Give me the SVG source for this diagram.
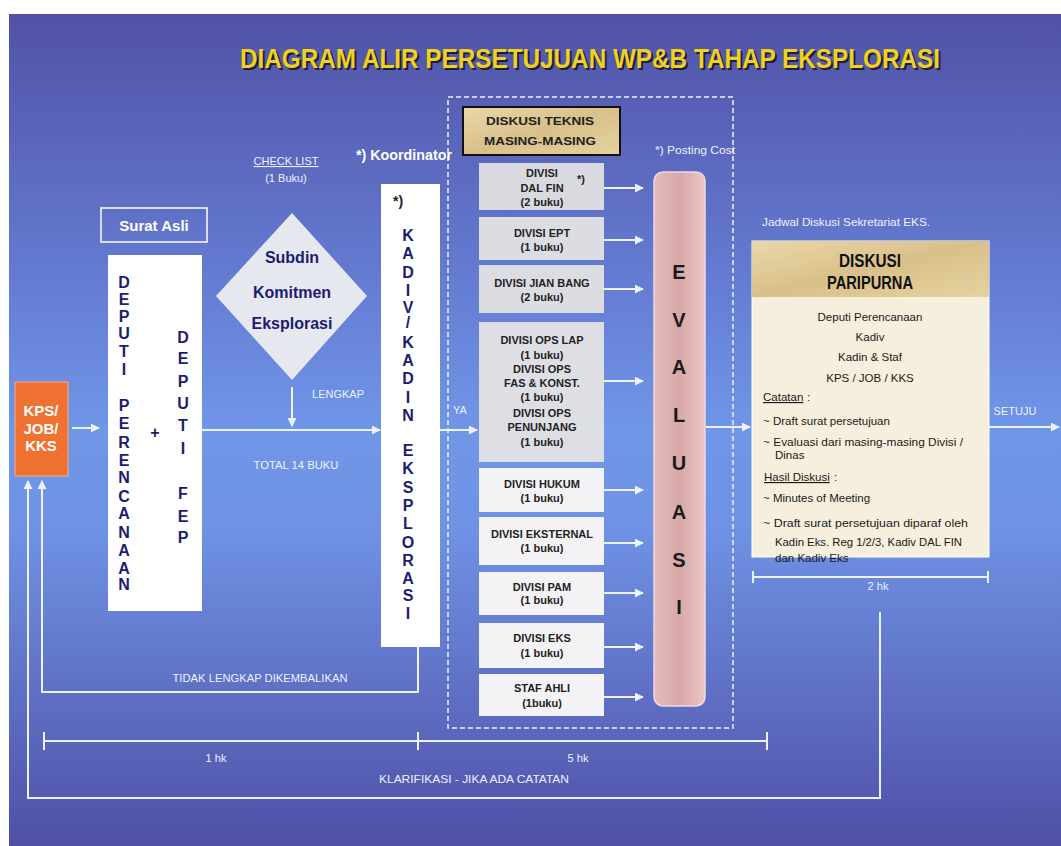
<svg xmlns="http://www.w3.org/2000/svg" width="1061" height="846" viewBox="0 0 1061 846">
<defs>
<linearGradient id="bg" x1="0" y1="0" x2="0" y2="1">
<stop offset="0" stop-color="#5152a6"/>
<stop offset="0.35" stop-color="#6680d6"/>
<stop offset="0.5" stop-color="#7096e8"/>
<stop offset="0.62" stop-color="#6f92e4"/>
<stop offset="1" stop-color="#4f50a6"/>
</linearGradient>
<linearGradient id="tan" x1="0" y1="0" x2="1" y2="1">
<stop offset="0" stop-color="#ead8a8"/>
<stop offset="0.5" stop-color="#d9c08a"/>
<stop offset="1" stop-color="#e6d2a0"/>
</linearGradient>
<linearGradient id="evalg" x1="0" y1="0" x2="1" y2="0">
<stop offset="0" stop-color="#e7bcbc"/>
<stop offset="0.5" stop-color="#d8a8a8"/>
<stop offset="1" stop-color="#ecc6c6"/>
</linearGradient>
<marker id="ah" viewBox="0 0 10 10" refX="9" refY="5" markerWidth="9" markerHeight="9" markerUnits="userSpaceOnUse" orient="auto">
<path d="M0,0 L10,5 L0,10 z" fill="#eef2ff"/>
</marker>
</defs>
<style>
.lbl{font-family:"Liberation Sans",Arial,sans-serif;fill:#eef1ff;font-size:11px}
.lblb{font-family:"Liberation Sans",Arial,sans-serif;fill:#ffffff;font-weight:bold}
.vl{font-family:"Liberation Sans",Arial,sans-serif;fill:#1c1c72;font-weight:bold;font-size:16px;text-anchor:middle}
.dv{font-family:"Liberation Sans",Arial,sans-serif;fill:#222;font-size:11px;text-anchor:middle;font-weight:bold}
.dbox{stroke:none}
.ln{stroke:#eef2ff;stroke-width:2;fill:none}
.ev{font-family:"Liberation Sans",Arial,sans-serif;fill:#1a1a1a;font-weight:bold;font-size:20px;text-anchor:middle}
.pt{font-family:"Liberation Sans",Arial,sans-serif;fill:#1a1a1a;font-size:11.5px}
</style>
<rect x="0" y="0" width="1061" height="846" fill="#ffffff"/>
<rect x="9" y="14" width="1052" height="832" fill="url(#bg)"/>

<!-- title -->
<g id="title">
<text x="592" y="70" text-anchor="middle" font-family="Liberation Sans, Arial, sans-serif" font-weight="bold" font-size="28" fill="#1e1e3a" textLength="700" lengthAdjust="spacingAndGlyphs">DIAGRAM ALIR PERSETUJUAN WP&amp;B TAHAP EKSPLORASI</text>
<text x="590" y="68" text-anchor="middle" font-family="Liberation Sans, Arial, sans-serif" font-weight="bold" font-size="28" fill="#f0d21c" textLength="700" lengthAdjust="spacingAndGlyphs">DIAGRAM ALIR PERSETUJUAN WP&amp;B TAHAP EKSPLORASI</text>
</g>

<!-- connectors -->
<g id="connectors">
<rect x="448" y="97" width="285" height="631" fill="none" stroke="#eef2ff" stroke-width="1.5" stroke-dasharray="5,3"/>
<line class="ln" x1="72" y1="428" x2="99" y2="428" marker-end="url(#ah)"/>
<line class="ln" x1="202" y1="430" x2="380" y2="430" marker-end="url(#ah)"/>
<line class="ln" x1="292" y1="387" x2="292" y2="426" marker-end="url(#ah)"/>
<line class="ln" x1="440" y1="430" x2="477" y2="430" marker-end="url(#ah)"/>
<line class="ln" x1="604" y1="188" x2="643" y2="188" marker-end="url(#ah)"/>
<line class="ln" x1="604" y1="240" x2="643" y2="240" marker-end="url(#ah)"/>
<line class="ln" x1="604" y1="289" x2="643" y2="289" marker-end="url(#ah)"/>
<line class="ln" x1="604" y1="381" x2="643" y2="381" marker-end="url(#ah)"/>
<line class="ln" x1="604" y1="490" x2="643" y2="490" marker-end="url(#ah)"/>
<line class="ln" x1="604" y1="543" x2="643" y2="543" marker-end="url(#ah)"/>
<line class="ln" x1="604" y1="593" x2="643" y2="593" marker-end="url(#ah)"/>
<line class="ln" x1="604" y1="647" x2="643" y2="647" marker-end="url(#ah)"/>
<line class="ln" x1="604" y1="697" x2="643" y2="697" marker-end="url(#ah)"/>
<line class="ln" x1="706" y1="427" x2="750" y2="427" marker-end="url(#ah)"/>
<line class="ln" x1="989" y1="427" x2="1059" y2="427" marker-end="url(#ah)"/>
<polyline class="ln" points="418,647 418,692 42,692 42,481" marker-end="url(#ah)"/>
<polyline class="ln" points="880,612 880,798 28,798 28,481" marker-end="url(#ah)"/>
<!-- timelines -->
<line class="ln" x1="44" y1="741" x2="767" y2="741"/>
<line class="ln" x1="44" y1="732" x2="44" y2="750"/>
<line class="ln" x1="418" y1="732" x2="418" y2="750"/>
<line class="ln" x1="767" y1="732" x2="767" y2="750"/>
<line class="ln" x1="753" y1="577" x2="988" y2="577"/>
<line class="ln" x1="753" y1="571" x2="753" y2="583"/>
<line class="ln" x1="988" y1="571" x2="988" y2="583"/>
</g>

<!-- free labels -->
<g id="labels">
<text class="lbl" x="286" y="165" text-anchor="middle" text-decoration="underline" textLength="65" lengthAdjust="spacingAndGlyphs">CHECK LIST</text>
<text class="lbl" x="286" y="182" text-anchor="middle">(1 Buku)</text>
<text class="lblb" x="404" y="160" text-anchor="middle" font-size="15" textLength="96" lengthAdjust="spacingAndGlyphs">*) Koordinator</text>
<text class="lbl" x="695" y="154" text-anchor="middle" font-size="12" textLength="80" lengthAdjust="spacingAndGlyphs">*) Posting Cost</text>
<text class="lbl" x="338" y="398" text-anchor="middle" font-size="10.5">LENGKAP</text>
<text class="lbl" x="296" y="469" text-anchor="middle" textLength="85" lengthAdjust="spacingAndGlyphs">TOTAL 14 BUKU</text>
<text class="lbl" x="460" y="414" text-anchor="middle" font-size="10">YA</text>
<text class="lbl" x="260" y="682" text-anchor="middle" textLength="175" lengthAdjust="spacingAndGlyphs">TIDAK LENGKAP DIKEMBALIKAN</text>
<text class="lbl" x="216" y="762" text-anchor="middle">1 hk</text>
<text class="lbl" x="578" y="762" text-anchor="middle">5 hk</text>
<text class="lbl" x="474" y="783" text-anchor="middle" textLength="190" lengthAdjust="spacingAndGlyphs">KLARIFIKASI - JIKA ADA CATATAN</text>
<text class="lbl" x="762" y="226" textLength="168" lengthAdjust="spacingAndGlyphs">Jadwal Diskusi Sekretariat EKS.</text>
<text class="lbl" x="878" y="590" text-anchor="middle">2 hk</text>
<text class="lbl" x="1015" y="415" text-anchor="middle">SETUJU</text>
</g>

<!-- KPS -->
<g id="kps">
<rect x="15" y="382" width="53" height="94" fill="#f07232" stroke="#f7b080" stroke-width="1"/>
<text class="lblb" x="41" y="416" text-anchor="middle" font-size="15">KPS/</text>
<text class="lblb" x="41" y="434" text-anchor="middle" font-size="15">JOB/</text>
<text class="lblb" x="41" y="451" text-anchor="middle" font-size="15">KKS</text>
</g>

<!-- Surat Asli -->
<g id="surat-asli">
<rect x="101" y="208" width="106" height="34" fill="none" stroke="#ffffff" stroke-width="1.5"/>
<text class="lblb" x="154" y="231" text-anchor="middle" font-size="15">Surat Asli</text>
</g>

<!-- Deputi -->
<g id="deputi">
<rect x="108" y="255" width="94" height="356" fill="#ffffff"/>
<text class="vl" x="124" y="288">D</text>
<text class="vl" x="124" y="305">E</text>
<text class="vl" x="124" y="322">P</text>
<text class="vl" x="124" y="339">U</text>
<text class="vl" x="124" y="357">T</text>
<text class="vl" x="124" y="375">I</text>
<text class="vl" x="124" y="411">P</text>
<text class="vl" x="124" y="429">E</text>
<text class="vl" x="124" y="448">R</text>
<text class="vl" x="124" y="466">E</text>
<text class="vl" x="124" y="483">N</text>
<text class="vl" x="124" y="502">C</text>
<text class="vl" x="124" y="519">A</text>
<text class="vl" x="124" y="538">N</text>
<text class="vl" x="124" y="556">A</text>
<text class="vl" x="124" y="574">A</text>
<text class="vl" x="124" y="590">N</text>
<text class="vl" x="155" y="438">+</text>
<text class="vl" x="183" y="343">D</text>
<text class="vl" x="183" y="364">E</text>
<text class="vl" x="183" y="387">P</text>
<text class="vl" x="183" y="409">U</text>
<text class="vl" x="183" y="431">T</text>
<text class="vl" x="183" y="454">I</text>
<text class="vl" x="183" y="499">F</text>
<text class="vl" x="183" y="522">E</text>
<text class="vl" x="183" y="543">P</text>
</g>

<!-- Subdin diamond -->
<g id="subdin">
<polygon points="292,213 367,296 292,380 216,296" fill="#e6e8f0"/>
<text class="vl" x="292" y="263" font-size="15">Subdin</text>
<text class="vl" x="292" y="298" font-size="15">Komitmen</text>
<text class="vl" x="292" y="329" font-size="15">Eksplorasi</text>
</g>

<!-- Kadiv -->
<g id="kadiv">
<rect x="381" y="184" width="59" height="463" fill="#ffffff"/>
<text x="398" y="206" text-anchor="middle" font-family="Liberation Sans, Arial, sans-serif" font-weight="bold" font-size="14" fill="#222">*)</text>
<text class="vl" x="408" y="241">K</text>
<text class="vl" x="408" y="259">A</text>
<text class="vl" x="408" y="278">D</text>
<text class="vl" x="408" y="296">I</text>
<text class="vl" x="408" y="313">V</text>
<text class="vl" x="408" y="328">/</text>
<text class="vl" x="408" y="348">K</text>
<text class="vl" x="408" y="366">A</text>
<text class="vl" x="408" y="384">D</text>
<text class="vl" x="408" y="403">I</text>
<text class="vl" x="408" y="421">N</text>
<text class="vl" x="408" y="456">E</text>
<text class="vl" x="408" y="474">K</text>
<text class="vl" x="408" y="493">S</text>
<text class="vl" x="408" y="511">P</text>
<text class="vl" x="408" y="529">L</text>
<text class="vl" x="408" y="548">O</text>
<text class="vl" x="408" y="566">R</text>
<text class="vl" x="408" y="584">A</text>
<text class="vl" x="408" y="601">S</text>
<text class="vl" x="408" y="619">I</text>
</g>

<!-- Diskusi teknis header -->
<g id="diskusi-teknis">
<rect x="463" y="107" width="157" height="48" fill="url(#tan)" stroke="#111" stroke-width="2"/>
<text class="dv" x="540" y="125" font-size="15" fill="#111" textLength="108" lengthAdjust="spacingAndGlyphs">DISKUSI TEKNIS</text>
<text class="dv" x="540" y="145" font-size="15" fill="#111" textLength="112" lengthAdjust="spacingAndGlyphs">MASING-MASING</text>
</g>

<!-- Divisions -->
<g id="div-dalfin">
<rect class="dbox" x="479" y="163" width="125" height="47" fill="#d9dadf"/>
<text class="dv" x="542" y="177">DIVISI</text>
<text class="dv" x="542" y="192">DAL FIN</text>
<text class="dv" x="542" y="206">(2 buku)</text>
<text class="dv" x="581" y="183">*)</text>
</g>
<g id="div-ept">
<rect class="dbox" x="479" y="217" width="125" height="43" fill="#dcdde2"/>
<text class="dv" x="542" y="237">DIVISI EPT</text>
<text class="dv" x="542" y="251">(1 buku)</text>
</g>
<g id="div-jianbang">
<rect class="dbox" x="479" y="265" width="125" height="48" fill="#dcdde2"/>
<text class="dv" x="542" y="287">DIVISI JIAN BANG</text>
<text class="dv" x="542" y="301">(2 buku)</text>
</g>
<g id="div-ops">
<rect class="dbox" x="479" y="322" width="125" height="140" fill="#dedfe4"/>
<text class="dv" x="542" y="344">DIVISI OPS LAP</text>
<text class="dv" x="542" y="359">(1 buku)</text>
<text class="dv" x="542" y="373">DIVISI OPS</text>
<text class="dv" x="542" y="387">FAS &amp; KONST.</text>
<text class="dv" x="542" y="401">(1 buku)</text>
<text class="dv" x="542" y="417">DIVISI OPS</text>
<text class="dv" x="542" y="431">PENUNJANG</text>
<text class="dv" x="542" y="446">(1 buku)</text>
</g>
<g id="div-hukum">
<rect class="dbox" x="479" y="468" width="125" height="44" fill="#f3f3f5"/>
<text class="dv" x="542" y="488">DIVISI HUKUM</text>
<text class="dv" x="542" y="502">(1 buku)</text>
</g>
<g id="div-eksternal">
<rect class="dbox" x="479" y="517" width="125" height="48" fill="#f3f3f5"/>
<text class="dv" x="542" y="538">DIVISI EKSTERNAL</text>
<text class="dv" x="542" y="552">(1 buku)</text>
</g>
<g id="div-pam">
<rect class="dbox" x="479" y="572" width="125" height="43" fill="#f3f3f5"/>
<text class="dv" x="542" y="591">DIVISI PAM</text>
<text class="dv" x="542" y="604">(1 buku)</text>
</g>
<g id="div-eks">
<rect class="dbox" x="479" y="623" width="125" height="45" fill="#f3f3f5"/>
<text class="dv" x="542" y="642">DIVISI EKS</text>
<text class="dv" x="542" y="657">(1 buku)</text>
</g>
<g id="div-stafahli">
<rect class="dbox" x="479" y="674" width="125" height="42" fill="#f3f3f5"/>
<text class="dv" x="542" y="692">STAF AHLI</text>
<text class="dv" x="542" y="707">(1buku)</text>
</g>

<!-- Evaluasi -->
<g id="evaluasi">
<rect x="654" y="172" width="51" height="534" rx="9" fill="url(#evalg)" stroke="#f0d8e0" stroke-width="1.5"/>
<text class="ev" x="679" y="279">E</text>
<text class="ev" x="679" y="327">V</text>
<text class="ev" x="679" y="374">A</text>
<text class="ev" x="679" y="422">L</text>
<text class="ev" x="679" y="470">U</text>
<text class="ev" x="679" y="519">A</text>
<text class="ev" x="679" y="567">S</text>
<text class="ev" x="679" y="614">I</text>
</g>

<!-- Diskusi paripurna -->
<g id="paripurna">
<rect x="752" y="241" width="237" height="316" fill="#f6efdd" stroke="#ffffff" stroke-width="1"/>
<rect x="752" y="241" width="237" height="56" fill="url(#tan)"/>
<text x="870" y="267" text-anchor="middle" font-family="Liberation Sans, Arial, sans-serif" font-weight="bold" font-size="18" fill="#111" textLength="62" lengthAdjust="spacingAndGlyphs">DISKUSI</text>
<text x="870" y="289" text-anchor="middle" font-family="Liberation Sans, Arial, sans-serif" font-weight="bold" font-size="18" fill="#111" textLength="86" lengthAdjust="spacingAndGlyphs">PARIPURNA</text>
<text class="pt" x="870" y="321" text-anchor="middle">Deputi Perencanaan</text>
<text class="pt" x="870" y="341" text-anchor="middle">Kadiv</text>
<text class="pt" x="870" y="361" text-anchor="middle">Kadin &amp; Staf</text>
<text class="pt" x="870" y="382" text-anchor="middle">KPS / JOB / KKS</text>
<text class="pt" x="763" y="401" text-decoration="underline">Catatan</text>
<text class="pt" x="807" y="401">:</text>
<text class="pt" x="763" y="425">~ Draft surat persetujuan</text>
<text class="pt" x="763" y="446" textLength="200" lengthAdjust="spacingAndGlyphs">~ Evaluasi dari masing-masing Divisi /</text>
<text class="pt" x="775" y="459">Dinas</text>
<text class="pt" x="764" y="481" text-decoration="underline">Hasil Diskusi</text>
<text class="pt" x="834" y="481">:</text>
<text class="pt" x="763" y="502">~ Minutes of Meeting</text>
<text class="pt" x="763" y="527" textLength="205" lengthAdjust="spacingAndGlyphs">~ Draft surat persetujuan diparaf oleh</text>
<text class="pt" x="775" y="546" textLength="187" lengthAdjust="spacingAndGlyphs">Kadin Eks. Reg 1/2/3, Kadiv DAL FIN</text>
<text class="pt" x="775" y="562">dan Kadiv Eks</text>
</g>
</svg>
